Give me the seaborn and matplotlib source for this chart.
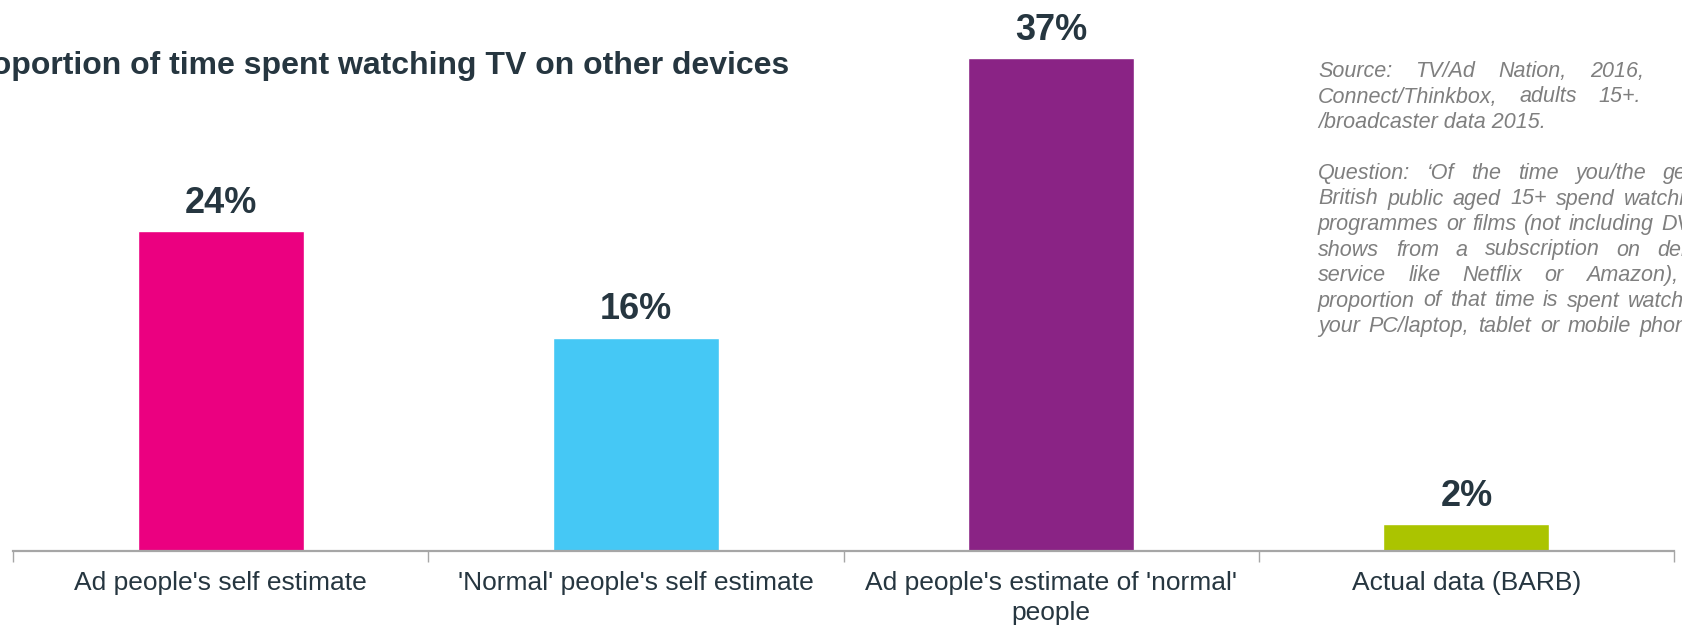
import matplotlib
matplotlib.use("Agg")
import matplotlib.pyplot as plt
import seaborn as sns
import pandas as pd

categories = ["Ad people's self estimate", "'Normal' people's self estimate",
              "Ad people's estimate of 'normal'\npeople", "Actual data (BARB)"]
values = [24, 16, 37, 2]
value_labels = ["24%", "16%", "37%", "2%"]
colors = ["#EB0080", "#45C8F5", "#8A2385", "#ABC400"]
title = "Proportion of time spent watching TV on other devices"
note_lines = [
    ("Source: TV/Ad Nation, 2016,", True),
    ("Connect/Thinkbox, adults 15+.", True),
    ("/broadcaster data 2015.", False),
    ("", False),
    ("Question: \u2018Of the time you/the general", True),
    ("British public aged 15+ spend watching", True),
    ("programmes or films (not including DVDs,", True),
    ("shows from a subscription on demand", True),
    ("service like Netflix or Amazon),", True),
    ("proportion of that time is spent watching", True),
    ("your PC/laptop, tablet or mobile phone?\u2019", True),
]
# x (px) where the last visible word of each justified line starts
note_last_x = [1590, 1598, None, None, 1663, 1624, 1661, 1657, 1586, 1628, 1640]

sns.set_theme(style="white")
plt.rcParams["font.family"] = ["Liberation Sans", "DejaVu Sans"]

tick_fs, note_fs = 19, 15.5

W, H = 1683, 626
fig = plt.figure(figsize=(W / 100, H / 100), dpi=100)
ax = fig.add_axes([13 / W, (H - 551) / H, (1674 - 13) / W, 551 / H])

df = pd.DataFrame({"cat": categories, "val": values})
sns.barplot(data=df, x="cat", y="val", hue="cat", palette=colors, width=0.4,
            legend=False, ax=ax, saturation=1)

ax.set_xlim(-0.5, 3.5)
ax.set_ylim(0, 41.37)
ax.set_yticks([])
ax.set_xlabel("")
ax.set_ylabel("")
for s in ["top", "right", "left"]:
    ax.spines[s].set_visible(False)
ax.spines["bottom"].set_color("#A6A6A6")
ax.spines["bottom"].set_linewidth(1.6)

dark = "#263640"
ax.set_xticks(range(len(categories)))
ax.set_xticklabels(categories, fontsize=tick_fs, color=dark, linespacing=1.3)
ax.set_xticks([-0.5, 0.5, 1.5, 2.5, 3.5], minor=True)
ax.tick_params(axis="x", which="major", length=0, pad=14.5)
ax.tick_params(axis="x", which="minor", length=8, width=1, color="#A6A6A6",
               bottom=True)

for cont in ax.containers:
    vals = list(cont.datavalues)
    labs = [value_labels[values.index(int(round(v)))] for v in vals]
    ax.bar_label(cont, labels=labs, padding=7.5, fontsize=26, fontweight="bold",
                 color=dark)

fig.text(789 / W, 1 - 74 / H, title, ha="right", va="baseline", fontsize=23,
         fontweight="bold", color=dark)

gray = "#7F7F7F"
x0 = 1318
base0 = 77
lh = 25.5
renderer = fig.canvas.get_renderer()
for i, (line, just) in enumerate(note_lines):
    if not line:
        continue
    y = 1 - (base0 + i * lh) / H
    if not just:
        fig.text(x0 / W, y, line, ha="left", va="baseline", fontsize=note_fs,
                 style="italic", color=gray)
        continue
    words = line.split(" ")
    texts = [fig.text(0, y, w, ha="left", va="baseline", fontsize=note_fs,
                      style="italic", color=gray) for w in words]
    widths = [t.get_window_extent(renderer=renderer).width for t in texts]
    xl = note_last_x[i]
    gap = (xl - x0 - sum(widths[:-1])) / (len(words) - 1)
    x = x0
    for t, wd in zip(texts, widths):
        t.set_x(x / W)
        x += wd + gap

fig.savefig("out.png", dpi=100)
